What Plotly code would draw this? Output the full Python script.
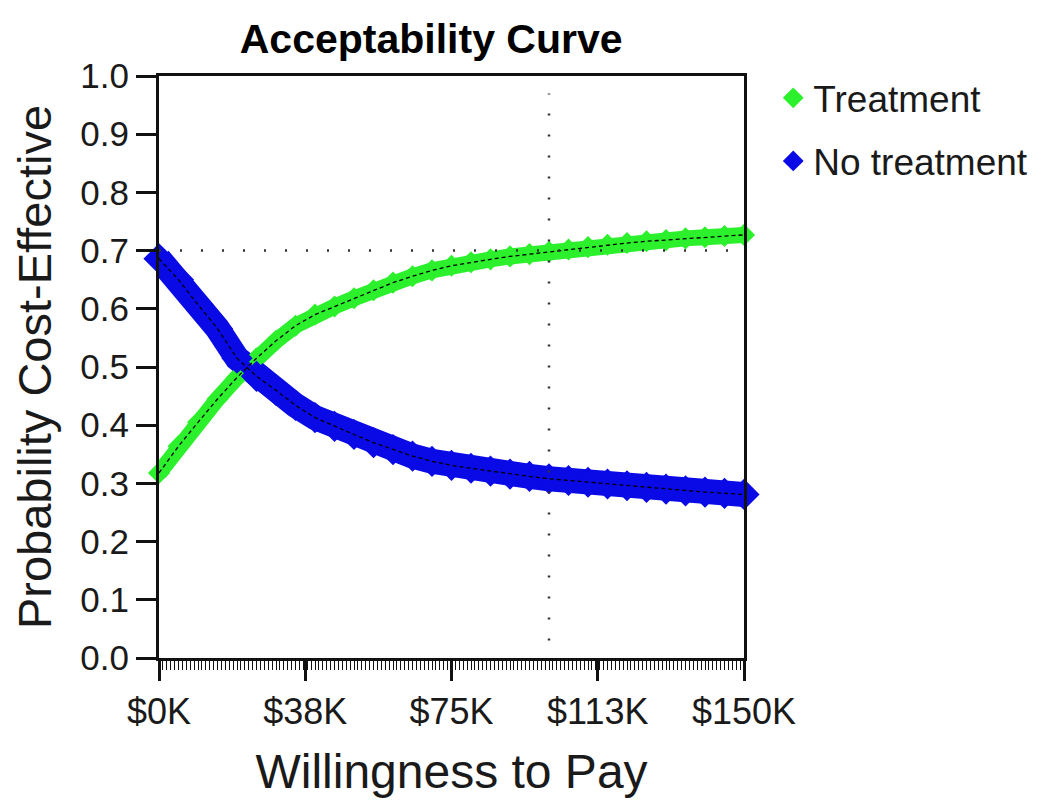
import plotly.graph_objects as go

# willingness to pay ($) and probability cost-effective
wtp = [0, 5000, 10000, 15000, 20000, 25000, 30000, 35000, 40000, 45000,
       50000, 55000, 60000, 65000, 70000, 75000, 80000, 85000, 90000, 95000,
       100000, 105000, 110000, 115000, 120000, 125000, 130000, 135000, 140000,
       145000, 150000]
treatment = [0.318, 0.364, 0.405, 0.445, 0.482, 0.515, 0.545, 0.571, 0.590, 0.604,
             0.618, 0.632, 0.645, 0.656, 0.666, 0.674, 0.680, 0.685, 0.690, 0.694,
             0.698, 0.702, 0.706, 0.710, 0.713, 0.716, 0.718, 0.721, 0.723, 0.725,
             0.727]
no_treatment = [0.686, 0.650, 0.607, 0.566, 0.515, 0.484, 0.460, 0.434, 0.413, 0.398,
                0.384, 0.370, 0.358, 0.347, 0.338, 0.331, 0.326, 0.321, 0.316, 0.312,
                0.308, 0.305, 0.302, 0.299, 0.296, 0.293, 0.290, 0.287, 0.285, 0.283,
                0.281]

x_tickvals = [0, 37500, 75000, 112500, 150000]
x_ticktext = ["$0K", "$38K", "$75K", "$113K", "$150K"]

ref_wtp = 100000
ref_prob = 0.7

green = "#2cf02c"
blue = "#0a0ae6"
font_family = "Liberation Sans, Arial, sans-serif"
text_color = "#1a1a1a"

fig = go.Figure()

# thick bands under the markers
for ys, col, w in [(treatment, green, 16), (no_treatment, blue, 25)]:
    fig.add_trace(go.Scatter(x=wtp, y=ys, mode="lines", line=dict(color=col, width=w),
                             showlegend=False, hoverinfo="skip", cliponaxis=False))

fig.add_trace(go.Scatter(x=wtp, y=treatment, mode="markers", name="Treatment",
                         marker=dict(symbol="diamond", size=17, color=green),
                         legendgroup="t", cliponaxis=False))
fig.add_trace(go.Scatter(x=wtp, y=no_treatment, mode="markers", name="No treatment",
                         marker=dict(symbol="diamond", size=24, color=blue),
                         legendgroup="n", cliponaxis=False))

# thin dashed centre lines
for ys in [treatment, no_treatment]:
    fig.add_trace(go.Scatter(x=wtp, y=ys, mode="lines",
                             line=dict(color="black", width=1.3, dash="4px,3px"),
                             showlegend=False, hoverinfo="skip"))

# dotted reference lines
fig.add_shape(type="line", x0=0, x1=150000, y0=ref_prob, y1=ref_prob,
              line=dict(color="#333", width=2.5, dash="2px,19px"))
fig.add_shape(type="line", x0=ref_wtp, x1=ref_wtp, y0=0.03, y1=0.97,
              line=dict(color="#333", width=2.5, dash="2px,19px"))

fig.update_layout(
    width=1050,
    height=800,
    margin=dict(l=151, r=314, t=68, b=150),
    paper_bgcolor="white",
    plot_bgcolor="white",
    font=dict(family=font_family, color=text_color, size=35),
    title=dict(text="Acceptability Curve", x=0.403, xanchor="center",
               y=0.962, yanchor="middle",
               font=dict(size=41, weight="bold", color="black")),
    legend=dict(x=1.05, xanchor="left", y=1.015, yanchor="top",
                font=dict(size=37), tracegroupgap=12, itemsizing="trace",
                bgcolor="rgba(0,0,0,0)"),
    showlegend=True,
)

fig.update_xaxes(
    range=[0, 150000],
    tickvals=x_tickvals,
    ticktext=x_ticktext,
    ticks="outside",
    ticklen=20,
    tickwidth=2.5,
    tickcolor="#111",
    showline=True,
    linecolor="#111",
    linewidth=3,
    mirror=True,
    showgrid=False,
    zeroline=False,
    minor=dict(dtick=1000, tick0=0, ticks="outside", ticklen=9, tickwidth=1.2,
               tickcolor="#111", showgrid=False),
    title=dict(text="Willingness to Pay", font=dict(size=48), standoff=24),
    tickfont=dict(size=36),
)
fig.update_yaxes(
    range=[0, 1],
    dtick=0.1,
    tickformat=".1f",
    ticks="outside",
    ticklen=20,
    tickwidth=2.5,
    tickcolor="#111",
    showline=True,
    linecolor="#111",
    linewidth=3,
    mirror=True,
    showgrid=False,
    zeroline=False,
    automargin=False,
    title=dict(text="Probability Cost-Effective", font=dict(size=47), standoff=30),
    tickfont=dict(size=35),
)

fig.write_html("out.html")
